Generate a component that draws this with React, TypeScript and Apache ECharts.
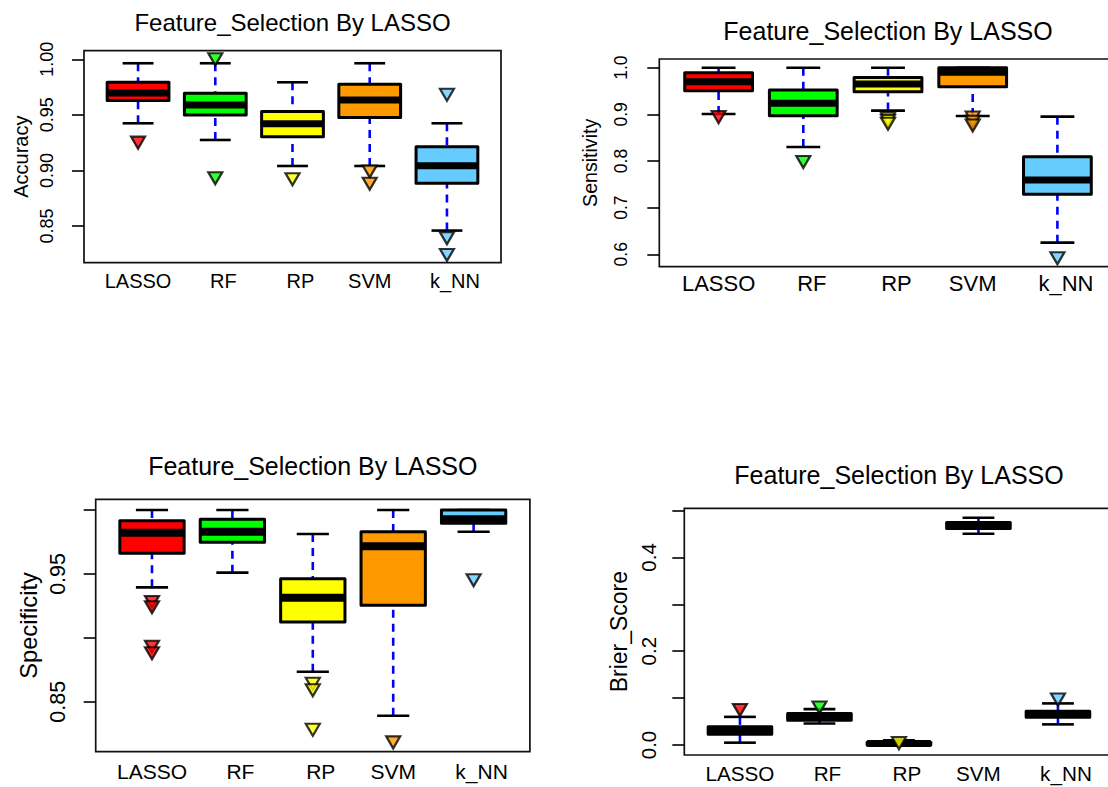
import React, { useEffect, useRef } from "react";
import * as echarts from "echarts";

const methods = ["LASSO", "RF", "RP", "SVM", "k_NN"];
const boxColors = ["#FF0000", "#00FF00", "#FFFF00", "#FF9900", "#66CCFF"];
const titleText = "Feature_Selection By LASSO";

// each box: [lower whisker, Q1, median, Q3, upper whisker]
const accuracyBoxes = [
  [0.9424, 0.9628, 0.9697, 0.9793, 0.9964],
  [0.9274, 0.9499, 0.9589, 0.9694, 0.9964],
  [0.904, 0.9304, 0.9421, 0.9529, 0.9793],
  [0.904, 0.9475, 0.9634, 0.9775, 0.9964],
  [0.8459, 0.8885, 0.9043, 0.9214, 0.9424],
];
const accuracyOutliers = [[0.925], [1.0, 0.893], [0.892], [0.899, 0.888], [0.968, 0.839, 0.824]];
const accuracyTicks = [0.85, 0.9, 0.95, 1.0];
const accuracyTickLabels = [0.85, 0.9, 0.95, 1.0];

const sensitivityBoxes = [
  [0.9007, 0.9507, 0.97, 0.9893, 1.0],
  [0.83, 0.897, 0.9235, 0.952, 1.0],
  [0.908, 0.9486, 0.965, 0.979, 1.0],
  [0.8965, 0.959, 0.99, 1.0, 1.0],
  [0.625, 0.7286, 0.7593, 0.809, 0.895],
];
const sensitivityOutliers = [[0.894], [0.798], [0.891, 0.886, 0.88], [0.893, 0.884, 0.876], [0.5914]];
const sensitivityTicks = [0.6, 0.7, 0.8, 0.9, 1.0];
const sensitivityTickLabels = [0.6, 0.7, 0.8, 0.9, 1.0];

const specificityBoxes = [
  [0.9395, 0.9661, 0.9822, 0.9916, 1.0],
  [0.951, 0.9747, 0.983, 0.9927, 1.0],
  [0.8735, 0.9124, 0.9314, 0.9463, 0.9812],
  [0.839, 0.9254, 0.9716, 0.983, 1.0],
  [0.983, 0.9896, 0.9927, 1.0, 1.0],
];
const specificityOutliers = [[0.928, 0.924, 0.893, 0.888], [], [0.864, 0.859, 0.828], [0.8182], [0.945]];
const specificityTicks = [0.85, 0.9, 0.95, 1.0];
const specificityTickLabels = [0.85, 0.95];

const brierBoxes = [
  [0.005, 0.023, 0.031, 0.039, 0.06],
  [0.046, 0.053, 0.06, 0.067, 0.0766],
  [0.0, 0.0, 0.003, 0.006, 0.01],
  [0.4504, 0.4615, 0.468, 0.4745, 0.4845],
  [0.044, 0.0594, 0.0656, 0.0718, 0.0887],
];
const brierOutliers = [[0.0745], [0.08], [0.004], [], [0.097]];
const brierTicks = [0.0, 0.1, 0.2, 0.3, 0.4, 0.5];
const brierTickLabels = [0.0, 0.2, 0.4];

const FONT = "'Liberation Sans', Arial, Helvetica, sans-serif";

const panels = [
  {
    yName: "Accuracy", boxes: accuracyBoxes, outliers: accuracyOutliers,
    ticks: accuracyTicks, labels: accuracyTickLabels, digits: 2,
    min: 0.817, max: 1.0077,
    grid: { left: 84, top: 50.7, width: 417, height: 212 },
    title: { x: 292.5, y: 22, size: 24 },
    tickFont: 18, nameFont: 20, xFont: 20, nameGap: 63, labelMargin: 37, xMargin: 18.3, shift: 16, medW: 7,
  },
  {
    yName: "Sensitivity", boxes: sensitivityBoxes, outliers: sensitivityOutliers,
    ticks: sensitivityTicks, labels: sensitivityTickLabels, digits: 1,
    min: 0.5734, max: 1.0186,
    grid: { left: 659.3, top: 59, width: 457.4, height: 207.7 },
    title: { x: 888, y: 31.3, size: 25 },
    tickFont: 17.5, nameFont: 19.6, xFont: 22, nameGap: 69, labelMargin: 38, xMargin: 16.3, shift: 17, medW: 7,
  },
  {
    yName: "Specificity", boxes: specificityBoxes, outliers: specificityOutliers,
    ticks: specificityTicks, labels: specificityTickLabels, digits: 2,
    min: 0.8109, max: 1.0084,
    grid: { left: 95.7, top: 499.3, width: 434.2, height: 252.4 },
    title: { x: 312.8, y: 465.5, size: 25 },
    tickFont: 21.5, nameFont: 23.7, xFont: 21, nameGap: 67, labelMargin: 38, xMargin: 20, shift: 16, medW: 8,
  },
  {
    yName: "Brier_Score", boxes: brierBoxes, outliers: brierOutliers,
    ticks: brierTicks, labels: brierTickLabels, digits: 1,
    min: -0.0213, max: 0.5047,
    grid: { left: 684.3, top: 508.3, width: 429.3, height: 246.7 },
    title: { x: 899, y: 475, size: 25 },
    tickFont: 20.5, nameFont: 23, xFont: 20.7, nameGap: 65, labelMargin: 36, xMargin: 18.3, shift: 16, medW: 7,
  },
];

const shifted = new Set(["RF", "RP", "k_NN"]);

function buildOption() {
  const grid: any[] = [];
  const xAxis: any[] = [];
  const yAxis: any[] = [];
  const series: any[] = [];
  const graphicEls: any[] = [];

  panels.forEach((p, i) => {
    grid.push({
      show: true,
      left: p.grid.left,
      top: p.grid.top,
      width: p.grid.width,
      height: p.grid.height,
      borderColor: "#111",
      borderWidth: 1.7,
      backgroundColor: "transparent",
      containLabel: false,
      outerBoundsMode: "none",
    });
    xAxis.push({
      type: "value",
      gridIndex: i,
      min: 0.3,
      max: 5.7,
      axisLine: { show: false },
      axisTick: { show: false },
      splitLine: { show: false },
      axisLabel: {
        customValues: [1, 2, 3, 4, 5],
        formatter: (v: number) => {
          const name = methods[Math.round(v) - 1];
          return shifted.has(name) ? `{s|${name}}` : `{n|${name}}`;
        },
        margin: p.xMargin,
        verticalAlign: "middle",
        rich: {
          s: { fontSize: p.xFont, fontFamily: FONT, color: "#000", padding: [0, 0, 0, p.shift] },
          n: { fontSize: p.xFont, fontFamily: FONT, color: "#000" },
        },
        fontSize: p.xFont,
        fontFamily: FONT,
        color: "#000",
      },
    });
    yAxis.push({
      type: "value",
      gridIndex: i,
      min: p.min,
      max: p.max,
      name: p.yName,
      nameLocation: "middle",
      nameGap: p.nameGap,
      nameRotate: 90,
      nameTextStyle: {
        fontSize: p.nameFont,
        fontFamily: FONT,
        color: "#000",
        align: "center",
        verticalAlign: "middle",
      },
      axisLine: { show: false },
      splitLine: { show: false },
      axisTick: {
        show: true,
        inside: false,
        length: 12,
        customValues: p.ticks,
        lineStyle: { color: "#000", width: 1.6 },
      },
      axisLabel: {
        customValues: p.labels,
        rotate: 90,
        margin: p.labelMargin,
        align: "center",
        verticalAlign: "middle",
        formatter: (v: number) => v.toFixed(p.digits),
        fontSize: p.tickFont,
        fontFamily: FONT,
        color: "#000",
      },
    });

    const medW = p.medW;
    series.push({
      type: "custom",
      xAxisIndex: i,
      yAxisIndex: i,
      clip: false,
      z: 2,
      data: p.boxes.map((b, j) => [j + 1, ...b]),
      encode: { x: 0, y: [1, 2, 3, 4, 5] },
      renderItem: (params: any, api: any) => {
        const x = api.value(0);
        const lo = api.coord([x, api.value(1)]);
        const q1 = api.coord([x, api.value(2)]);
        const md = api.coord([x, api.value(3)]);
        const q3 = api.coord([x, api.value(4)]);
        const hi = api.coord([x, api.value(5)]);
        const hw = api.size([0.8, 0])[0] / 2;
        const cx = lo[0];
        const color = boxColors[Math.round(x) - 1];
        const whisk = { stroke: "#0000FF", lineWidth: 2.6, lineDash: [8, 6] };
        const blk = { stroke: "#000", lineWidth: 2.6 };
        return {
          type: "group",
          children: [
            { type: "line", shape: { x1: cx, y1: lo[1], x2: cx, y2: q1[1] }, style: whisk },
            { type: "line", shape: { x1: cx, y1: hi[1], x2: cx, y2: q3[1] }, style: whisk },
            { type: "line", shape: { x1: cx - hw / 2, y1: lo[1], x2: cx + hw / 2, y2: lo[1] }, style: blk },
            { type: "line", shape: { x1: cx - hw / 2, y1: hi[1], x2: cx + hw / 2, y2: hi[1] }, style: blk },
            {
              type: "rect",
              shape: { x: cx - hw, y: q3[1], width: 2 * hw, height: q1[1] - q3[1] },
              style: { fill: color, stroke: "#000", lineWidth: 3, lineJoin: "round" },
            },
            {
              type: "line",
              shape: { x1: cx - hw, y1: md[1], x2: cx + hw, y2: md[1] },
              style: { stroke: "#000", lineWidth: medW },
            },
          ],
        };
      },
    });
    series.push({
      type: "scatter",
      xAxisIndex: i,
      yAxisIndex: i,
      z: 3,
      symbol: "path://M0,0 L10,0 L5,8.5 Z",
      symbolSize: [14, 12],
      itemStyle: { borderColor: "#000", borderWidth: 2.2 },
      data: p.outliers.flatMap((arr, j) =>
        arr.map((v) => ({ value: [j + 1, v], itemStyle: { color: boxColors[j] } }))
      ),
    });

    graphicEls.push({
      type: "text",
      x: p.title.x,
      y: p.title.y,
      style: {
        text: titleText,
        fontSize: p.title.size,
        fontFamily: FONT,
        fill: "#000",
        align: "center",
        verticalAlign: "middle",
      },
    });
  });

  return {
    animation: false,
    backgroundColor: "#fff",
    grid,
    xAxis,
    yAxis,
    series,
    graphic: { elements: graphicEls },
  };
}

export default function App() {
  const ref = useRef<HTMLDivElement>(null);
  useEffect(() => {
    if (!ref.current) return;
    const chart = echarts.init(ref.current, undefined, { renderer: "svg" });
    chart.setOption(buildOption() as any);
    return () => chart.dispose();
  }, []);
  return (
    <div
      ref={ref}
      style={{ position: "absolute", left: 0, top: 0, width: 1108, height: 787, background: "#fff" }}
    />
  );
}
